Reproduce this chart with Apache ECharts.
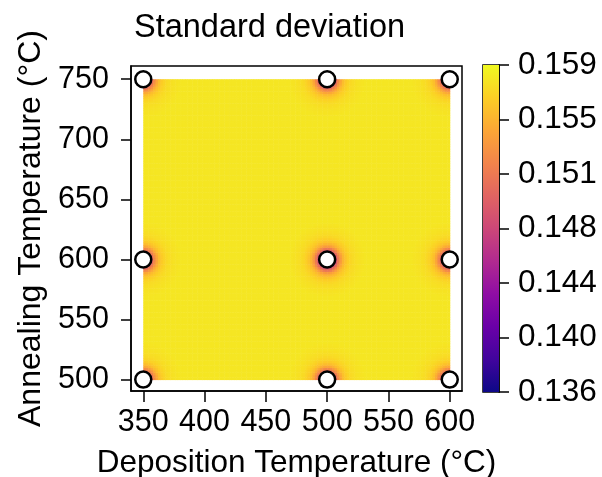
<!DOCTYPE html>
<html>
<head>
<meta charset="utf-8">
<script src="https://cdn.jsdelivr.net/npm/echarts@6/dist/echarts.min.js"></script>
<style>
  html, body { margin: 0; padding: 0; background: #fff; }
  #chart { width: 602px; height: 477px; }
</style>
</head>
<body>
<div id="chart"></div>
<script>
// 观测点 (沉积温度, 退火温度)
var depositionTemps = [350, 500, 600, 350, 500, 600, 350, 500, 600]
var annealingTemps = [500, 500, 500, 600, 600, 600, 750, 750, 750]
// 每个观测点处的最小标准差 (从图上估计)
var pointMinStd = [0.1405, 0.1395, 0.1405, 0.1395, 0.1360, 0.1395, 0.1405, 0.1395, 0.1405]
// 中心点附近标准差随距离(°C)的变化
var profileDist = [0, 4, 6, 7, 9, 11, 13, 16, 20, 25, 32]
var profileStd = [0.136, 0.140, 0.1455, 0.148, 0.151, 0.1535, 0.1552, 0.1565, 0.1573, 0.1577, 0.158]
var baseStd = 0.158
// 坐标轴刻度
var xTicks = [350, 400, 450, 500, 550, 600]
var yTicks = [500, 550, 600, 650, 700, 750]
var colorbarLabels = ['0.136', '0.140', '0.144', '0.148', '0.151', '0.155', '0.159']
var stdMin = 0.136
var stdMax = 0.159
// plasma 色带
var plasma = ['#0d0887', '#41049d', '#6a00a8', '#8f0da4', '#b12a90', '#cc4778',
  '#e16462', '#f2844b', '#fca636', '#fcce25', '#f0f921']

var step = 2

// 按距离查表得到标准差
function profileAt(d) {
  if (d >= profileDist[profileDist.length - 1]) return profileStd[profileStd.length - 1]
  for (var i = 1; i < profileDist.length; i++) {
    if (d <= profileDist[i]) {
      var t = (d - profileDist[i - 1]) / (profileDist[i] - profileDist[i - 1])
      return profileStd[i - 1] + t * (profileStd[i] - profileStd[i - 1])
    }
  }
}

// 生成热力图网格
var cells = []
for (var x = 350 + step / 2; x < 600; x += step) {
  for (var y = 500 + step / 2; y < 750; y += step) {
    var v = baseStd
    for (var k = 0; k < depositionTemps.length; k++) {
      var dx = x - depositionTemps[k]
      var dy = y - annealingTemps[k]
      var d = Math.sqrt(dx * dx + dy * dy)
      var drop = (baseStd - profileAt(d)) * (baseStd - pointMinStd[k]) / (baseStd - profileStd[0])
      v = Math.min(v, baseStd - drop)
    }
    cells.push([x, y, v])
  }
}

var points = depositionTemps.map(function(t, i) { return [t, annealingTemps[i]] })

var chart = echarts.init(document.getElementById('chart'))
var font = 'Liberation Sans, Arial, sans-serif'

chart.setOption({
  animation: false,
  textStyle: { fontFamily: font, color: '#000' },
  title: {
    text: 'Standard deviation',
    left: 134,
    top: 12,
    padding: 0,
    textStyle: { fontSize: 32.5, fontWeight: 'normal', color: '#000', fontFamily: font }
  },
  grid: [
    { left: 131, top: 66, width: 331, height: 325, show: true, borderColor: '#000', borderWidth: 1.5, backgroundColor: 'transparent', outerBoundsMode: 'none', containLabel: false },
    { left: 483, top: 65, width: 16, height: 327, show: true, borderColor: '#000', borderWidth: 1.5, backgroundColor: 'transparent', outerBoundsMode: 'none', containLabel: false }
  ],
  visualMap: {
    type: 'continuous',
    show: false,
    seriesIndex: 0,
    dimension: 2,
    min: stdMin,
    max: stdMax,
    inRange: { color: plasma }
  },
  xAxis: [
    {
      gridIndex: 0,
      type: 'value',
      min: 340,
      max: 610,
      axisLine: { show: true, lineStyle: { color: '#000', width: 1.5 } },
      axisTick: { customValues: xTicks, length: 11, lineStyle: { color: '#000', width: 1.5 } },
      axisLabel: { customValues: xTicks, fontSize: 30.5, color: '#000', margin: 16 },
      splitLine: { show: false },
      name: 'Deposition Temperature (°C)',
      nameLocation: 'middle',
      nameGap: 56,
      nameTextStyle: { fontSize: 31.5, color: '#000' }
    },
    { gridIndex: 1, type: 'category', data: ['cb'], show: false }
  ],
  yAxis: [
    {
      gridIndex: 0,
      type: 'value',
      min: 490.5,
      max: 761,
      axisLine: { show: true, lineStyle: { color: '#000', width: 1.5 } },
      axisTick: { customValues: yTicks, length: 10, lineStyle: { color: '#000', width: 1.5 } },
      axisLabel: { customValues: yTicks, fontSize: 30.5, color: '#000', margin: 22 },
      splitLine: { show: false },
      name: 'Annealing Temperature (°C)',
      nameLocation: 'middle',
      nameGap: 80,
      nameTextStyle: { fontSize: 32, color: '#000' }
    },
    {
      gridIndex: 1,
      type: 'value',
      position: 'right',
      min: 0,
      max: colorbarLabels.length - 1,
      interval: 1,
      axisLine: { show: true, lineStyle: { color: '#000', width: 1.5 } },
      axisTick: { show: true, length: 10, lineStyle: { color: '#000', width: 1.5 } },
      axisLabel: {
        fontSize: 31.5,
        color: '#000',
        margin: 19,
        formatter: function(v) { return colorbarLabels[v] }
      },
      splitLine: { show: false }
    }
  ],
  series: [
    {
      type: 'custom',
      xAxisIndex: 0,
      yAxisIndex: 0,
      data: cells,
      clip: true,
      silent: true,
      renderItem: function(params, api) {
        var cx = api.value(0)
        var cy = api.value(1)
        var p0 = api.coord([cx - step / 2, cy + step / 2])
        var p1 = api.coord([cx + step / 2, cy - step / 2])
        return {
          type: 'rect',
          shape: { x: p0[0], y: p0[1], width: p1[0] - p0[0] + 0.5, height: p1[1] - p0[1] + 0.5 },
          style: { fill: api.visual('color') }
        }
      }
    },
    {
      type: 'scatter',
      xAxisIndex: 0,
      yAxisIndex: 0,
      data: points,
      symbolSize: 16,
      z: 5,
      itemStyle: { color: '#fff', borderColor: '#000', borderWidth: 2.5, opacity: 1 }
    },
    {
      // 色标
      type: 'bar',
      xAxisIndex: 1,
      yAxisIndex: 1,
      data: [colorbarLabels.length - 1],
      barWidth: '100%',
      silent: true,
      itemStyle: {
        color: new echarts.graphic.LinearGradient(0, 1, 0, 0, plasma.map(function(c, i) {
          return { offset: i / (plasma.length - 1), color: c }
        }))
      }
    }
  ]
})
</script>
</body>
</html>
